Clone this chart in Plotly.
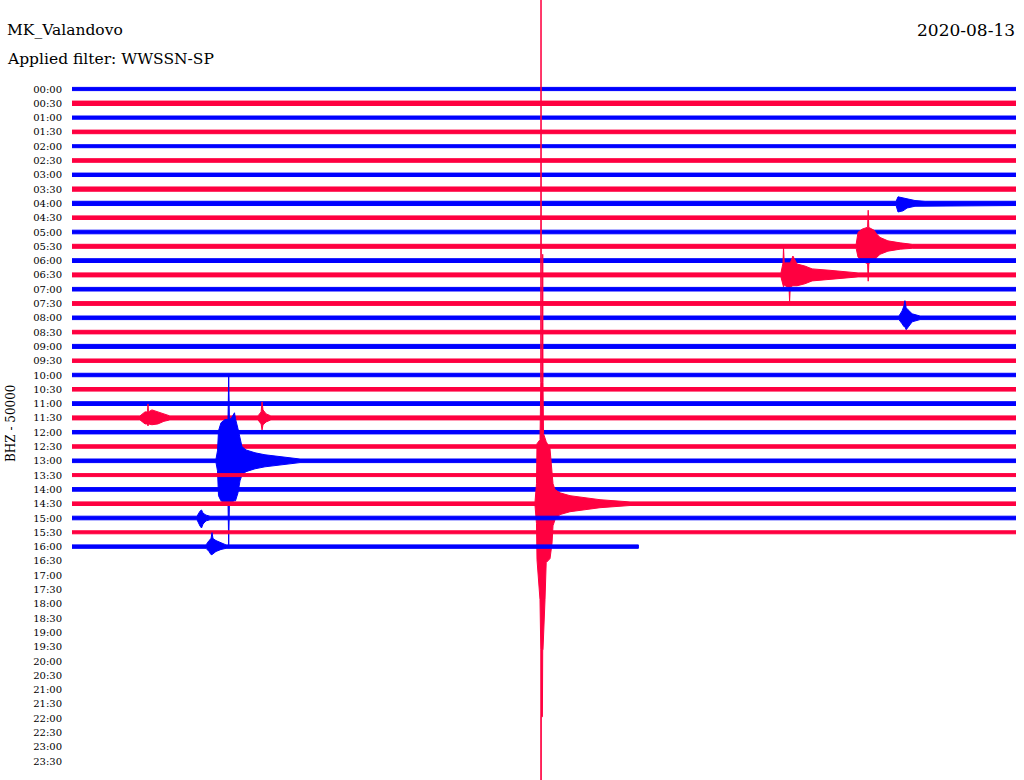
import plotly.graph_objects as go

# ---------------- data ----------------
ROW_LABELS = [
    "00:00", "00:30", "01:00", "01:30", "02:00", "02:30", "03:00", "03:30",
    "04:00", "04:30", "05:00", "05:30", "06:00", "06:30", "07:00", "07:30",
    "08:00", "08:30", "09:00", "09:30", "10:00", "10:30", "11:00", "11:30",
    "12:00", "12:30", "13:00", "13:30", "14:00", "14:30", "15:00", "15:30",
    "16:00", "16:30", "17:00", "17:30", "18:00", "18:30", "19:00", "19:30",
    "20:00", "20:30", "21:00", "21:30", "22:00", "22:30", "23:00", "23:30",
]
TRACE_MINUTES = 30.0          # each helicorder line spans 30 minutes
COUNTS_PER_ROW_K = 50.0       # "BHZ - 50000" -> 50 kcounts per line spacing
LAST_ROW_END_MIN = 18.0       # 16:00 line stops at 16:18

# background noise half-amplitude of each recorded line (kcounts)
BASE_NOISE_K = [5.6, 7.7, 5.6, 6.3, 5.2, 6.3, 6.0, 7.4, 7.4, 6.3, 6.3, 7.0,
                6.6, 7.0, 6.3, 6.6, 6.3, 6.3, 7.0, 6.0, 6.0, 6.3, 6.6, 7.0,
                6.0, 6.0, 6.3, 5.2, 6.3, 6.3, 6.3, 5.2, 6.0]

# events: minute within the line, upward / downward envelope (kcounts); None = background
T_0400 = [26.19, 26.25, 26.41, 26.54, 26.79, 27.11]
UP_0400 = [None, 23, 19, 16, 10, None]
DN_0400 = [None, 30, 26, 16, 10, None]

T_0530 = [24.92, 24.98, 25.11, 25.27, 25.284, 25.303, 25.322, 25.49, 25.58, 25.68, 25.93, 26.32, 26.70]
UP_0530 = [None, 49, 60, 66, 66, 126, 66, 56, 42, 31, 19, 12, None]
DN_0530 = [None, 38, 52, 60, 60, 122, 60, 50, 38, 28, 17, 10, None]

T_0630 = [22.53, 22.596, 22.612, 22.634, 22.72, 22.786, 22.805, 22.827, 22.91, 23.04,
          23.29, 23.52, 24.09, 24.66, 24.98]
UP_0630 = [None, 42, 98, 42, 42, 42, 42, 42, 66, 38, 31, 21, 16, 10, None]
DN_0630 = [None, 35, 42, 35, 42, 42, 94, 42, 38, 38, 31, 21, 16, 10, None]

T_0800 = [26.28, 26.38, 26.44, 26.47, 26.51, 26.57, 26.70, 26.95]
UP_0800 = [None, 24, 42, 60, 35, 28, 14, None]
DN_0800 = [None, 21, 31, 31, 42, 31, 14, None]

T_1130 = [2.16, 2.32, 2.40, 2.415, 2.43, 2.54, 2.73, 2.92, 3.11,
          5.91, 6.01, 6.04, 6.07, 6.17, 6.32]
UP_1130 = [None, 21, 21, 49, 21, 28, 21, 12, None, None, 21, 56, 28, 14, None]
DN_1130 = [None, 21, 21, 28, 21, 24, 21, 12, None, None, 21, 42, 24, 14, None]

T_1300 = [4.576, 4.624, 4.656, 4.735, 4.862, 4.958, 4.980, 5.002, 5.053, 5.164,
          5.196, 5.275, 5.339, 5.403, 5.530, 5.816, 6.133, 6.769, 7.246]
UP_1300 = [None, 35, 105, 133, 144, 144, 297, 147, 147, 168, 147, 112, 77, 49, 38, 28, 21, 12, None]
DN_1300 = [None, 35, 122, 140, 147, 147, 294, 147, 144, 140, 140, 112, 70, 49, 38, 28, 21, 12, None]

T_1430 = [14.714, 14.762, 14.778, 14.873, 14.898, 14.905, 14.914, 14.949, 14.959, 14.968,
          14.984, 15.032, 15.070, 15.191, 15.254, 15.286, 15.350, 15.509, 15.826, 16.303,
          16.780, 17.257, 17.733]
UP_1430 = [None, 70, 210, 224, 424, 2170, 424, 424, 872, 424, 245, 224, 217, 192, 122,
           70, 49, 38, 28, 21, 14, 10, None]
DN_1430 = [None, 70, 196, 336, 511, 2170, 745, 745, 511, 511, 511, 336, 206, 192, 140,
           77, 56, 38, 28, 21, 14, 10, None]

T_1500 = [3.973, 4.068, 4.116, 4.163, 4.259, 4.386]
UP_1500 = [None, 24, 28, 17, 10, None]
DN_1500 = [None, 28, 35, 21, 10, None]

T_1600 = [4.259, 4.354, 4.418, 4.449, 4.481, 4.576, 4.735, 4.894]
UP_1600 = [None, 21, 28, 49, 28, 21, 14, None]
DN_1600 = [None, 17, 28, 28, 28, 17, 10, None]

EVENTS = {
    "04:00": (T_0400, UP_0400, DN_0400),
    "05:30": (T_0530, UP_0530, DN_0530),
    "06:30": (T_0630, UP_0630, DN_0630),
    "08:00": (T_0800, UP_0800, DN_0800),
    "11:30": (T_1130, UP_1130, DN_1130),
    "13:00": (T_1300, UP_1300, DN_1300),
    "14:30": (T_1430, UP_1430, DN_1430),
    "15:00": (T_1500, UP_1500, DN_1500),
    "16:00": (T_1600, UP_1600, DN_1600),
}

STATION = "MK_Valandovo"
DATE = "2020-08-13"
FILTER_TEXT = "Applied filter: WWSSN-SP"
CHANNEL_TEXT = "BHZ - 50000"

# ---------------- figure ----------------
COLORS = ["#0000ff", "#ff0040"]
FONT = "DejaVu Serif"

fig = go.Figure()
n_rec = len(BASE_NOISE_K)
for i in range(n_rec):
    lab = ROW_LABELS[i]
    base = BASE_NOISE_K[i]
    t_end = LAST_ROW_END_MIN if i == n_rec - 1 else TRACE_MINUTES
    pts = [(0.0, base, base)]
    if lab in EVENTS:
        ts, ups, dns = EVENTS[lab]
        for t, u, d in zip(ts, ups, dns):
            pts.append((t, base if u is None else u, base if d is None else d))
    pts.append((t_end, base, base))
    xs = [p[0] for p in pts] + [p[0] for p in reversed(pts)] + [pts[0][0]]
    ys = ([i - p[1] / COUNTS_PER_ROW_K for p in pts]
          + [i + p[2] / COUNTS_PER_ROW_K for p in reversed(pts)]
          + [i - pts[0][1] / COUNTS_PER_ROW_K])
    c = COLORS[i % 2]
    fig.add_trace(go.Scatter(
        x=xs, y=ys, mode="lines", fill="toself", fillcolor=c,
        line=dict(color=c, width=1), hoverinfo="skip", showlegend=False,
    ))

W, H = 1024, 780
L, R = 72, 8
ROW0_PX, ROW_STEP_PX = 89.0, 14.3
y_top = -ROW0_PX / ROW_STEP_PX
y_bot = (H - ROW0_PX) / ROW_STEP_PX
PW = W - L - R

def px_x(px):
    return (px - L) / PW

def px_y(px):
    return 1 - px / H

fig.update_layout(
    width=W, height=H,
    margin=dict(l=L, r=R, t=0, b=0),
    paper_bgcolor="white", plot_bgcolor="white",
    xaxis=dict(range=[0, TRACE_MINUTES], visible=False, fixedrange=True),
    yaxis=dict(
        range=[y_bot, y_top], tickmode="array",
        tickvals=list(range(len(ROW_LABELS))), ticktext=ROW_LABELS,
        showgrid=False, zeroline=False, showline=False, ticks="",
        ticklabelstandoff=9,
        tickfont=dict(family=FONT, size=10, color="black"),
        fixedrange=True,
    ),
    annotations=[
        dict(text=STATION, xref="paper", yref="paper", x=px_x(5), y=px_y(30.5),
             xanchor="left", yanchor="middle", showarrow=False,
             font=dict(family=FONT, size=15.5, color="black")),
        dict(text=FILTER_TEXT, xref="paper", yref="paper", x=px_x(5), y=px_y(59),
             xanchor="left", yanchor="middle", showarrow=False,
             font=dict(family=FONT, size=15.5, color="black")),
        dict(text=DATE, xref="paper", yref="paper", x=px_x(1017), y=px_y(30),
             xanchor="right", yanchor="middle", showarrow=False,
             font=dict(family=FONT, size=17, color="black")),
        dict(text=CHANNEL_TEXT, xref="paper", yref="paper", x=px_x(11), y=px_y(424),
             xanchor="center", yanchor="middle", textangle=-90, showarrow=False,
             font=dict(family=FONT, size=12, color="black")),
    ],
)

fig.write_html(
    "out.html",
    config={"displayModeBar": False},
    post_script="document.body.style.margin='0';document.body.style.padding='0';"
                "document.documentElement.style.overflow='hidden';",
)
